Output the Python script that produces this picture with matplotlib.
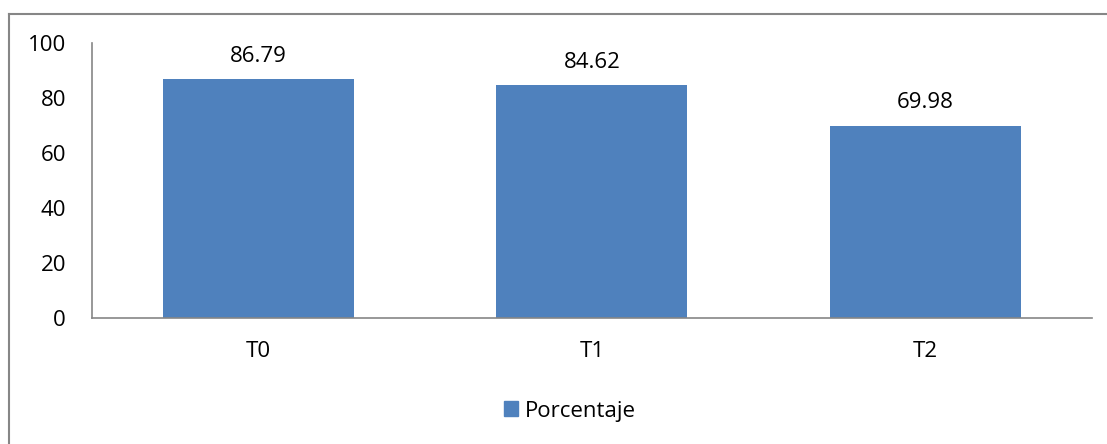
import matplotlib.pyplot as plt
from matplotlib.lines import Line2D
from matplotlib.patches import Patch

categories = ["T0", "T1", "T2"]
porcentaje = [86.79, 84.62, 69.98]
yticks = [0, 20, 40, 60, 80, 100]

BLUE = "#4F81BD"
GRAY = "#868686"
FS = 16

plt.rcParams["font.family"] = ["Open Sans", "DejaVu Sans"]

W, H = 1107, 444
fig = plt.figure(figsize=(W / 100, H / 100), dpi=100)

# axes area in pixels: x 92..1092, y 43..318
ax = fig.add_axes([92 / W, 1 - 318 / H, (1092 - 92) / W, (318 - 43) / H])

x = range(len(categories))
bars = ax.bar(x, porcentaje, width=0.573, color=BLUE, zorder=2)
for b, v in zip(bars, porcentaje):
    ax.annotate(f"{v:.2f}", (b.get_x() + b.get_width() / 2, v),
                xytext=(0, 12.5), textcoords="offset points",
                ha="center", va="baseline", fontsize=FS)

ax.set_xlim(-0.5, 2.5)
ax.set_ylim(0, 100)
ax.set_yticks(yticks)
ax.set_xticks(list(x))
ax.set_xticklabels(categories)
ax.tick_params(axis="both", length=0, labelsize=FS)
ax.tick_params(axis="x", pad=16.5)
ax.tick_params(axis="y", pad=18.7)

for s in ["top", "right"]:
    ax.spines[s].set_visible(False)
for s in ["left", "bottom"]:
    ax.spines[s].set_color(GRAY)
    ax.spines[s].set_linewidth(1.2)

# outer chart border (only top and left are inside the picture)
fig.add_artist(Line2D([9 / W, 1], [1 - 14 / H, 1 - 14 / H], color=GRAY, lw=1.5))
fig.add_artist(Line2D([9 / W, 9 / W], [0, 1 - 14 / H], color=GRAY, lw=1.5))

fig.legend(handles=[Patch(color=BLUE, label="Porcentaje")],
           loc="center", bbox_to_anchor=(570 / W, 1 - 411 / H),
           frameon=False, fontsize=FS, handlelength=0.63, handleheight=0.63,
           handletextpad=0.3)

fig.savefig("out.png", dpi=100)
